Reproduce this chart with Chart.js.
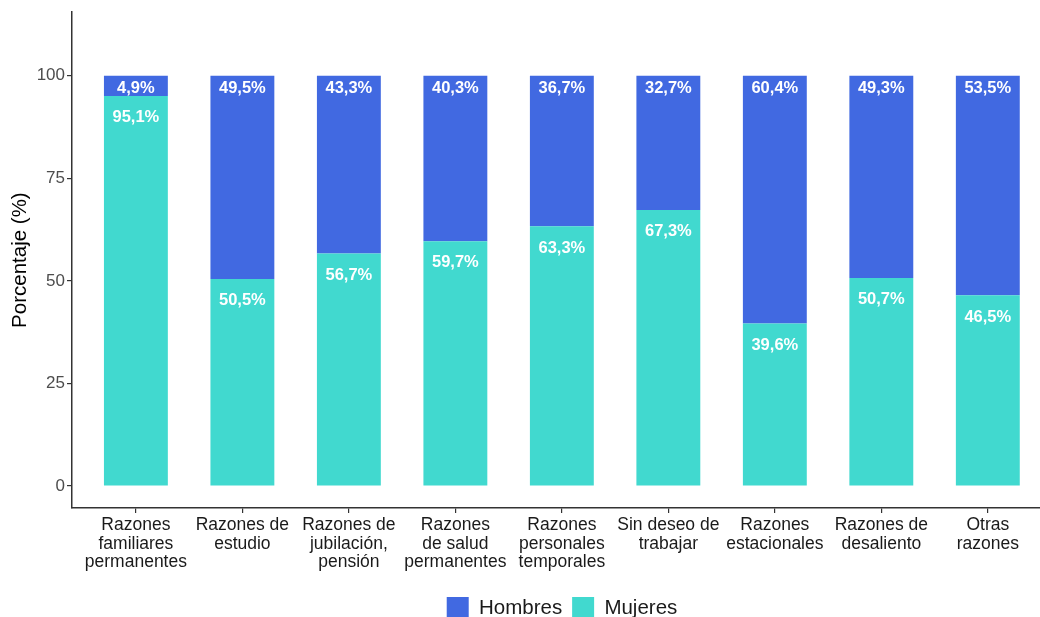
<!DOCTYPE html>
<html>
<head>
<meta charset="utf-8">
<script src="https://cdn.jsdelivr.net/npm/chart.js@4/dist/chart.umd.min.js"></script>
<style>
  html, body { margin: 0; padding: 0; background: #fff; }
  #wrap { width: 1040px; height: 617px; position: relative; }
</style>
</head>
<body>
<div id="wrap"><canvas id="chart"></canvas></div>
<script>
const categories = [
  ['Razones', 'familiares', 'permanentes'],
  ['Razones de', 'estudio'],
  ['Razones de', 'jubilación,', 'pensión'],
  ['Razones', 'de salud', 'permanentes'],
  ['Razones', 'personales', 'temporales'],
  ['Sin deseo de', 'trabajar'],
  ['Razones', 'estacionales'],
  ['Razones de', 'desaliento'],
  ['Otras', 'razones']
];
const hombres = [4.9, 49.5, 43.3, 40.3, 36.7, 32.7, 60.4, 49.3, 53.5];
const mujeres = [95.1, 50.5, 56.7, 59.7, 63.3, 67.3, 39.6, 50.7, 46.5];
const yTicks = [0, 25, 50, 75, 100];

const font = '"Liberation Sans", Arial, Helvetica, sans-serif';
const axisColor = '#333333';

// etiquetas blancas dentro de las barras
const barLabels = {
  id: 'barLabels',
  afterDatasetsDraw(chart) {
    const ctx = chart.ctx;
    const yScale = chart.scales.y;
    ctx.save();
    ctx.fillStyle = '#ffffff';
    ctx.font = 'bold 16.5px ' + font;
    ctx.textAlign = 'center';
    ctx.textBaseline = 'middle';
    chart.data.datasets.forEach((ds, di) => {
      const meta = chart.getDatasetMeta(di);
      meta.data.forEach((bar, i) => {
        const top = yScale.getValueForPixel(bar.y);
        const y = yScale.getPixelForValue(top - ds.labelOffset);
        const txt = ds.data[i].y.toFixed(1).replace('.', ',') + '%';
        ctx.fillText(txt, bar.x, y);
      });
    });
    ctx.restore();
  }
};

// la leyenda va centrada sobre el panel completo (que se sale por la derecha)
const legendShift = {
  id: 'legendShift',
  afterLayout(chart) {
    chart.legend.left += 42;
    chart.legend.right += 42;
    chart.legend.top += 12;
    chart.legend.bottom += 12;
  }
};

new Chart(document.getElementById('chart'), {
  type: 'bar',
  plugins: [barLabels, legendShift],
  data: {
    datasets: [
      {
        label: 'Mujeres',
        data: mujeres.map((v, i) => ({ x: i, y: v })),
        backgroundColor: 'rgb(65, 217, 207)',
        labelOffset: 5.3,
        barPercentage: 0.6,
        categoryPercentage: 1
      },
      {
        label: 'Hombres',
        data: hombres.map((v, i) => ({ x: i, y: v })),
        backgroundColor: 'rgb(65, 105, 225)',
        labelOffset: 3.1,
        barPercentage: 0.6,
        categoryPercentage: 1
      }
    ]
  },
  options: {
    responsive: true,
    maintainAspectRatio: false,
    animation: false,
    layout: { padding: { top: 4, right: 0, left: 0, bottom: 0 } },
    plugins: {
      legend: {
        position: 'bottom',
        reverse: true,
        labels: {
          boxWidth: 22,
          boxHeight: 22,
          padding: 10,
          color: '#1a1a1a',
          font: { size: 20.5, family: font }
        }
      },
      tooltip: { enabled: false }
    },
    scales: {
      x: {
        type: 'linear',
        stacked: true,
        offset: false,
        min: -0.6,
        max: 8.49,
        afterBuildTicks: (scale) => {
          scale.ticks = categories.map((c, i) => ({ value: i }));
        },
        afterFit: (scale) => { scale.height = 67; },
        ticks: {
          autoSkip: false,
          maxRotation: 0,
          padding: 3,
          color: '#1a1a1a',
          font: { size: 17.5, family: font, lineHeight: 1.06 },
          callback: (v) => categories[v] || ''
        },
        grid: { offset: false, drawOnChartArea: false, drawTicks: true, tickLength: 5, color: axisColor, lineWidth: 1.2 },
        border: { display: true, color: axisColor, width: 1.5 }
      },
      y: {
        stacked: true,
        min: -5.34,
        max: 115.5,
        afterBuildTicks: (scale) => {
          scale.ticks = yTicks.map(v => ({ value: v }));
        },
        afterFit: (scale) => { scale.width = 72; },
        title: {
          display: true,
          text: 'Porcentaje (%)',
          color: '#000000',
          font: { size: 20.5, family: font },
          padding: { top: 8, bottom: 4 }
        },
        ticks: {
          padding: 2,
          color: '#4d4d4d',
          font: { size: 17, family: font }
        },
        grid: { drawOnChartArea: false, drawTicks: true, tickLength: 5, color: axisColor, lineWidth: 1.2 },
        border: { display: true, color: axisColor, width: 1.5 }
      }
    }
  }
});
</script>
</body>
</html>
